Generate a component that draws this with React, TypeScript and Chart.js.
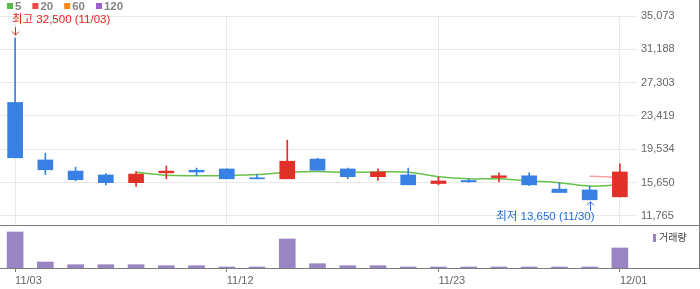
import React, { useEffect, useRef } from 'react';
import { Chart, registerables } from 'chart.js';

Chart.register(...registerables);

// ---- data ----
const DATES = ['11/03', '11/04', '11/05', '11/06', '11/09', '11/10', '11/11', '11/12', '11/13', '11/16', '11/17', '11/18', '11/19', '11/20', '11/23', '11/24', '11/25', '11/26', '11/27', '11/30', '12/01'];
const OPEN = [25000, 18300, 17000, 16550, 15650, 16800, 17100, 17250, 16200, 16100, 18400, 17250, 16350, 16550, 15550, 15900, 16250, 16450, 14900, 14800, 14000];
const HIGH = [32500, 19100, 17450, 16700, 16950, 17600, 17350, 17250, 16600, 20600, 18500, 17350, 17250, 17350, 16300, 16100, 16800, 16800, 15650, 15250, 17850];
const LOW = [18550, 16600, 15850, 15400, 15200, 16100, 16450, 16100, 16100, 16100, 17100, 16100, 15900, 15400, 15400, 15700, 15750, 15300, 14500, 13650, 14000];
const CLOSE = [18550, 17150, 16000, 15650, 16650, 17000, 16900, 16100, 16100, 18150, 17100, 16350, 16900, 15400, 15850, 15750, 16450, 15400, 14500, 13650, 16900];
const MA5 = [null, null, null, null, 16850, 16500, 16450, 16500, 16600, 16850, 16950, 16850, 16900, 16850, 16350, 16100, 16100, 15850, 15650, 15250, 15400];
const MA20 = [null, null, null, null, null, null, null, null, null, null, null, null, null, null, null, null, null, null, null, 16400, 16250];
const MA60 = DATES.map(() => null);
const MA120 = DATES.map(() => null);
const VOLUME = [3600000, 600000, 330000, 330000, 330000, 230000, 230000, 100000, 100000, 2900000, 430000, 230000, 230000, 100000, 100000, 100000, 100000, 100000, 100000, 100000, 2000000];
const PRICE_TICKS = [11765, 15650, 19534, 23419, 27303, 31188, 35073];
const DATE_TICKS = ['11/03', '11/12', '11/23', '12/01'];
const MA_NAMES = ['5', '20', '60', '120'];

// ---- axis ranges / styles ----
const PRICE_MIN = 10716;
const PRICE_MAX = 35073;
const VOLUME_MAX = 4200000;
const MA_COLORS = ['#55bb44', '#ee4848', '#f5881f', '#9b5fcf'];
const UP = '#e03028';
const DOWN = '#3880e4';
const VOL_COLOR = '#9a85c4';
const GRID = '#e8e8e8';
const FRAME = '#7c7c7c';
const FONT = '"Liberation Sans", "Noto Sans CJK KR", sans-serif';

const fmt = (v: number) => Number(v).toLocaleString('en-US');
const candleColors = OPEN.map((o, i) => (CLOSE[i] >= o ? UP : DOWN));

const pricePlugin = {
  id: 'priceDecor',
  afterDraw(chart: any) {
    const ctx = chart.ctx;
    const area = chart.chartArea;
    const xs = chart.scales.x;
    const ys = chart.scales.y;
    ctx.save();
    // top legend
    ctx.font = `bold 11.5px ${FONT}`;
    ctx.textBaseline = 'middle';
    ctx.textAlign = 'left';
    let lx = 7;
    MA_NAMES.forEach((name, i) => {
      ctx.fillStyle = MA_COLORS[i];
      ctx.fillRect(lx, 3, 6, 6);
      ctx.fillStyle = '#858585';
      ctx.fillText(name, lx + 8, 6.5);
      lx += 8 + ctx.measureText(name).width + 11;
    });
    // high annotation
    ctx.font = `11.5px ${FONT}`;
    const hi = HIGH.indexOf(Math.max(...HIGH));
    const hx = Math.round(xs.getPixelForValue(hi)) + 0.5;
    const hy = ys.getPixelForValue(HIGH[hi]);
    ctx.strokeStyle = '#e8231c';
    ctx.fillStyle = '#e8231c';
    ctx.lineWidth = 1;
    ctx.beginPath();
    ctx.moveTo(hx, hy - 11);
    ctx.lineTo(hx, hy - 3);
    ctx.moveTo(hx - 3.5, hy - 6.5);
    ctx.lineTo(hx, hy - 3);
    ctx.lineTo(hx + 3.5, hy - 6.5);
    ctx.stroke();
    ctx.textAlign = 'left';
    ctx.fillText(`최고 ${fmt(HIGH[hi])} (${DATES[hi]})`, hx - 3.5, hy - 18.5);
    // low annotation
    const lo = LOW.indexOf(Math.min(...LOW));
    const lxp = Math.round(xs.getPixelForValue(lo)) + 0.5;
    const lyp = ys.getPixelForValue(LOW[lo]);
    ctx.strokeStyle = '#1f6ad9';
    ctx.fillStyle = '#1f6ad9';
    ctx.beginPath();
    ctx.moveTo(lxp, lyp + 2);
    ctx.lineTo(lxp, lyp + 11);
    ctx.moveTo(lxp - 3.5, lyp + 5.5);
    ctx.lineTo(lxp, lyp + 2);
    ctx.lineTo(lxp + 3.5, lyp + 5.5);
    ctx.stroke();
    ctx.textAlign = 'right';
    ctx.fillText(`최저 ${fmt(LOW[lo])} (${DATES[lo]})`, lxp + 4, lyp + 17);
    // frame
    ctx.strokeStyle = FRAME;
    ctx.lineWidth = 1;
    ctx.beginPath();
    const by = Math.round(area.bottom) + 0.5;
    ctx.moveTo(0, by);
    ctx.lineTo(chart.width, by);
    ctx.moveTo(chart.width - 0.5, 0);
    ctx.lineTo(chart.width - 0.5, by);
    ctx.stroke();
    ctx.restore();
  },
};

const volumePlugin = {
  id: 'volumeDecor',
  afterDraw(chart: any) {
    const ctx = chart.ctx;
    const area = chart.chartArea;
    ctx.save();
    ctx.strokeStyle = FRAME;
    ctx.lineWidth = 1;
    const by = Math.round(area.bottom) + 0.5;
    ctx.beginPath();
    ctx.moveTo(0, by);
    ctx.lineTo(chart.width, by);
    ctx.moveTo(chart.width - 0.5, 0);
    ctx.lineTo(chart.width - 0.5, by);
    ctx.stroke();
    // legend
    const x0 = area.right + 18;
    ctx.fillStyle = VOL_COLOR;
    ctx.fillRect(x0, area.top + 8, 3, 8);
    ctx.fillStyle = '#444';
    ctx.font = `10px ${FONT}`;
    ctx.textAlign = 'left';
    ctx.textBaseline = 'middle';
    ctx.fillText(chart.data.datasets[0].label, x0 + 6, area.top + 12.5);
    ctx.restore();
  },
};

const isDateTick = (i: number) => DATE_TICKS.includes(DATES[i]);

export default function App() {
  const priceRef = useRef<HTMLCanvasElement | null>(null);
  const volRef = useRef<HTMLCanvasElement | null>(null);

  useEffect(() => {
    document.body.style.margin = '0';
    const priceChart = new Chart(priceRef.current as HTMLCanvasElement, {
      type: 'bar',
      data: {
        labels: DATES,
        datasets: [
          {
            type: 'bar',
            label: 'wick',
            data: LOW.map((l, i) => [l, HIGH[i]]),
            backgroundColor: candleColors,
            barThickness: 1,
            grouped: false,
            order: 0,
          } as any,
          {
            type: 'bar',
            label: 'body',
            data: OPEN.map((o, i) => [o, CLOSE[i]]),
            backgroundColor: candleColors,
            barThickness: 15,
            minBarLength: 1,
            grouped: false,
            order: 0,
          } as any,
          { type: 'line', label: MA_NAMES[0], data: MA5, borderColor: '#66c24b', borderWidth: 1.5, pointRadius: 0, tension: 0.4, order: 2 } as any,
          { type: 'line', label: MA_NAMES[1], data: MA20, borderColor: 'rgba(235,90,90,0.55)', borderWidth: 1.5, pointRadius: 0, tension: 0.4, order: 2 } as any,
          { type: 'line', label: MA_NAMES[2], data: MA60, borderColor: MA_COLORS[2], borderWidth: 1.5, pointRadius: 0, order: 2 } as any,
          { type: 'line', label: MA_NAMES[3], data: MA120, borderColor: MA_COLORS[3], borderWidth: 1.5, pointRadius: 0, order: 2 } as any,
        ],
      },
      options: {
        animation: false,
        responsive: false,
        layout: { padding: { top: 16, bottom: 1, left: 0, right: 0 } },
        plugins: { legend: { display: false }, tooltip: { enabled: false } },
        scales: {
          x: {
            offset: true,
            grid: {
              offset: false,
              drawTicks: false,
              color: (c: any) => (isDateTick(c.index) ? GRID : 'transparent'),
            },
            border: { display: false },
            ticks: { display: false },
            afterFit: (s: any) => { s.height = 0; s.paddingLeft = 0; s.paddingRight = 0; },
          },
          y: {
            position: 'right',
            min: PRICE_MIN,
            max: PRICE_MAX,
            afterBuildTicks: (s: any) => { s.ticks = PRICE_TICKS.map((v) => ({ value: v })); },
            afterFit: (s: any) => { s.width = 65; s.paddingTop = 0; s.paddingBottom = 0; },
            grid: { color: GRID, tickLength: 2, drawTicks: true },
            border: { display: false },
            ticks: {
              padding: 4,
              color: '#666',
              font: { family: FONT, size: 11 },
              callback: (v: any) => fmt(v),
            },
          },
        },
      } as any,
      plugins: [pricePlugin],
    });

    const volumeChart = new Chart(volRef.current as HTMLCanvasElement, {
      type: 'bar',
      data: {
        labels: DATES,
        datasets: [
          { label: '거래량', data: VOLUME, backgroundColor: VOL_COLOR, barThickness: 16 } as any,
        ],
      },
      options: {
        animation: false,
        responsive: false,
        layout: { padding: 0 },
        plugins: { legend: { display: false }, tooltip: { enabled: false } },
        scales: {
          x: {
            offset: true,
            grid: {
              offset: false,
              drawOnChartArea: false,
              drawTicks: true,
              tickLength: 4,
              tickColor: (c: any) => (isDateTick(c.index) ? FRAME : 'transparent'),
            },
            border: { display: false },
            ticks: {
              autoSkip: false,
              maxRotation: 0,
              align: 'start',
              padding: 2,
              color: '#666',
              font: { family: FONT, size: 11 },
              callback: (_v: any, i: number) => (isDateTick(i) ? DATES[i] : ''),
            },
            afterFit: (s: any) => { s.height = 21; s.paddingLeft = 0; s.paddingRight = 0; },
          },
          y: {
            position: 'right',
            min: 0,
            max: VOLUME_MAX,
            grid: { display: false },
            border: { display: false },
            ticks: { display: false },
            afterFit: (s: any) => { s.width = 65; s.paddingTop = 0; s.paddingBottom = 0; },
          },
        },
      } as any,
      plugins: [volumePlugin],
    });

    return () => {
      priceChart.destroy();
      volumeChart.destroy();
    };
  }, []);

  return (
    <div style={{ position: 'relative', width: 700, height: 289, background: '#fff' }}>
      <canvas ref={priceRef} width={700} height={226} style={{ position: 'absolute', left: 0, top: 0 }} />
      <canvas ref={volRef} width={700} height={63} style={{ position: 'absolute', left: 0, top: 226 }} />
    </div>
  );
}
